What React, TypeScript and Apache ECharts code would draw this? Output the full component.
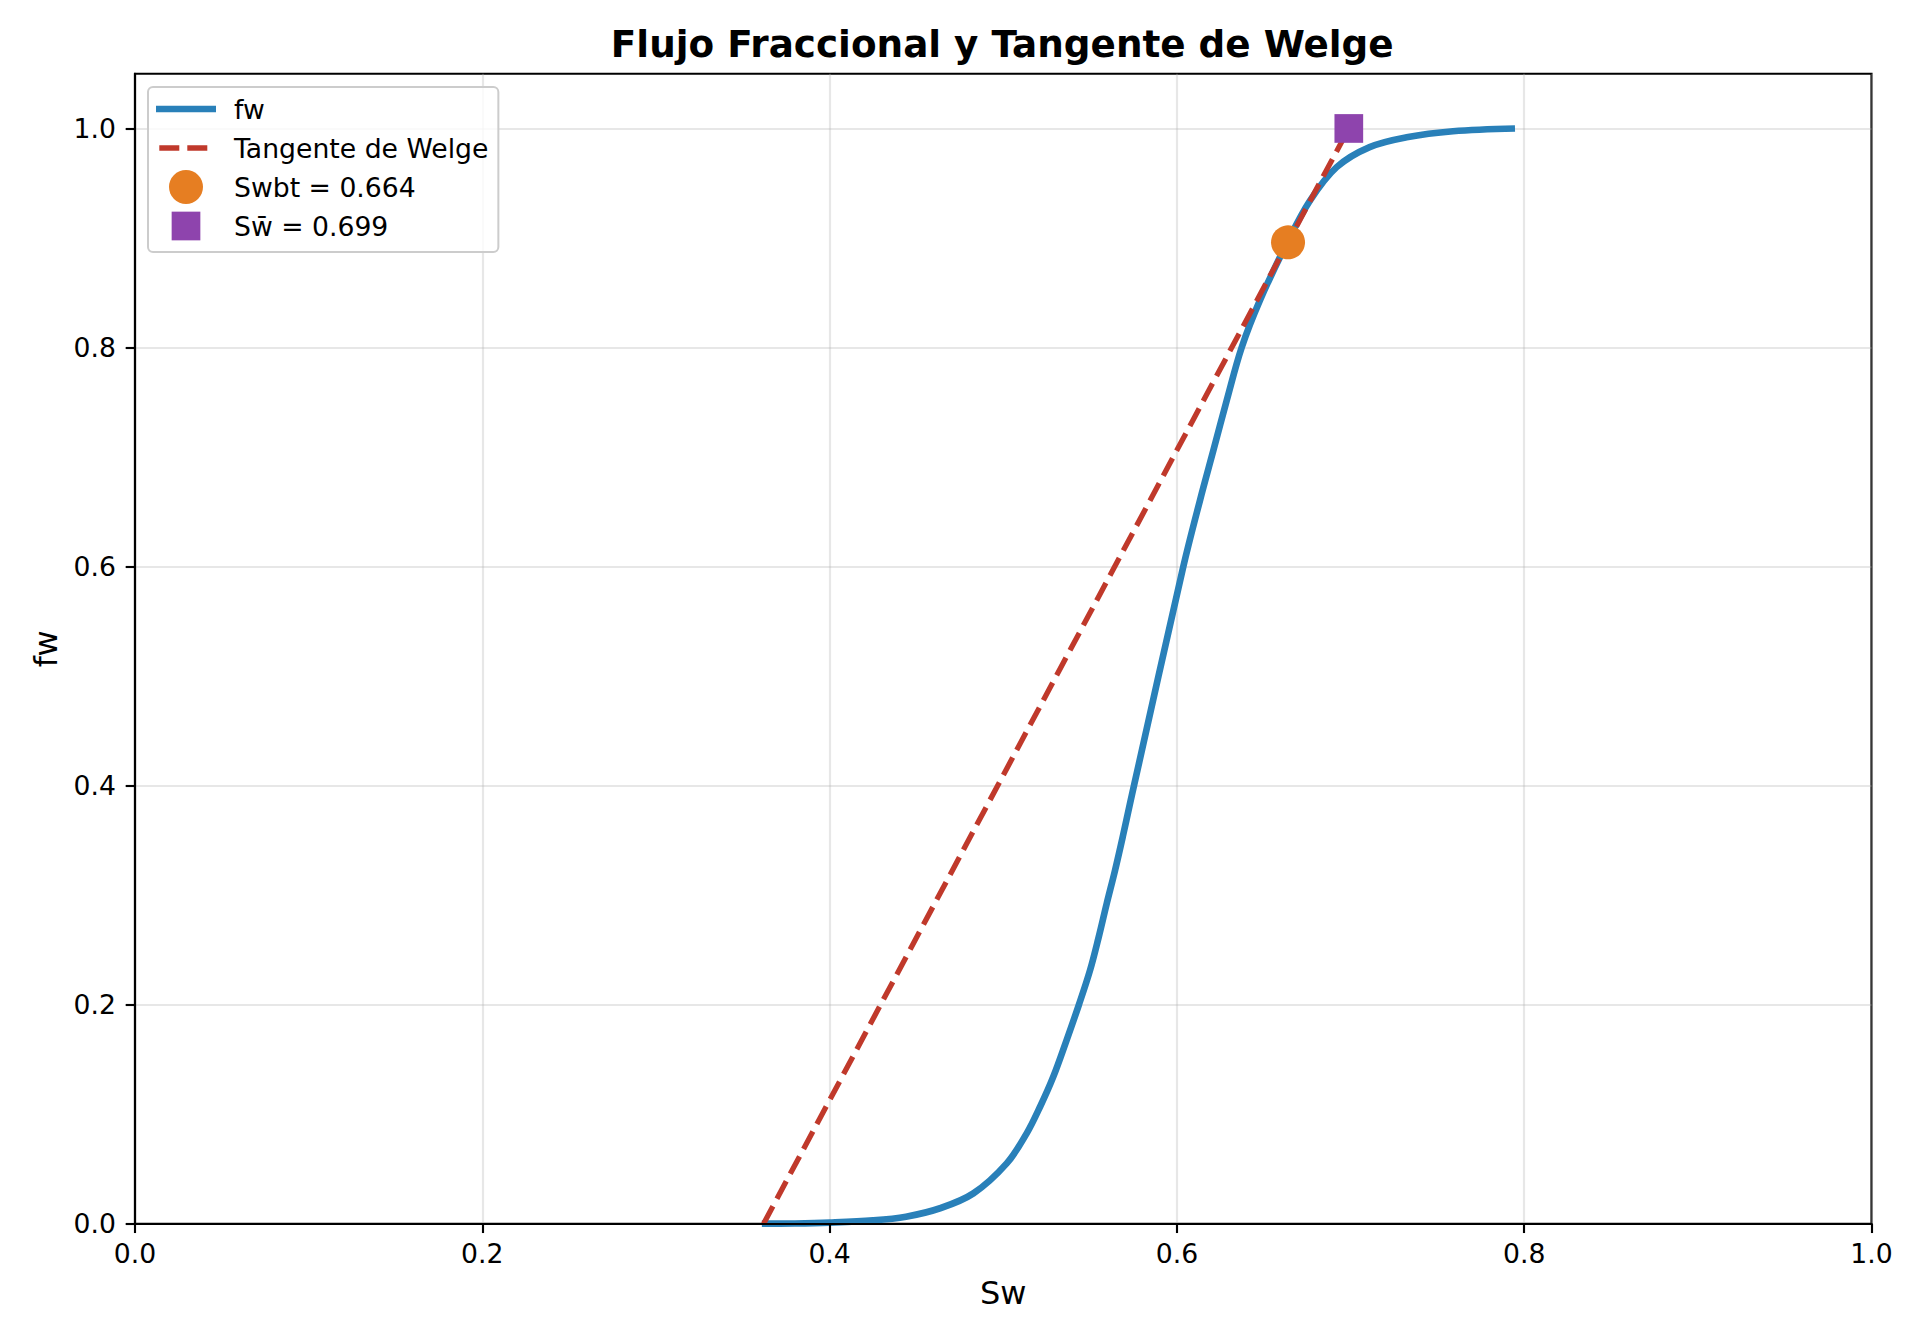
import React, { useEffect, useRef } from 'react';
import * as echarts from 'echarts';

// ---- Data ----
const SW_CURVE = [
  0.361, 0.38, 0.4, 0.425, 0.444, 0.4636, 0.4828, 0.502, 0.5135, 0.5212, 0.5288, 0.5365,
  0.5435, 0.55, 0.5550, 0.5596, 0.5644, 0.5688, 0.573, 0.5753, 0.6037, 0.6133, 0.621,
  0.6287, 0.6373, 0.6478, 0.6632, 0.6766, 0.692, 0.711, 0.7323, 0.759, 0.7947,
];
const FW_CURVE = [
  0, 0.0002, 0.001, 0.003, 0.0064, 0.0141, 0.0277, 0.0551, 0.0825, 0.1068, 0.1342, 0.1677,
  0.1996, 0.2315, 0.2619, 0.2924, 0.3228, 0.3532, 0.3837, 0.4, 0.6, 0.6605, 0.706,
  0.7517, 0.8, 0.843, 0.8948, 0.934, 0.9647, 0.983, 0.992, 0.9975, 1.0,
];
const TANGENT_SW = [0.362, 0.699];
const TANGENT_FW = [0, 1.0];
const SWBT = 0.664;
const FW_BT = 0.896;
const SW_AVG = 0.699;
const FW_AVG = 1.0;
const X_TICKS = [0, 0.2, 0.4, 0.6, 0.8, 1.0];
const Y_TICKS = [0, 0.2, 0.4, 0.6, 0.8, 1.0];

const TITLE = 'Flujo Fraccional y Tangente de Welge';
const X_NAME = 'Sw';
const Y_NAME = 'fw';
const NAME_FW = 'fw';
const NAME_TAN = 'Tangente de Welge';
const NAME_BT = `Swbt = ${SWBT.toFixed(3)}`;
const NAME_AVG = `Sw\u0304 = ${SW_AVG.toFixed(3)}`;

// ---- Styles ----
const BLUE = '#2980b9';
const RED = '#c0392b';
const ORANGE = '#e67e22';
const PURPLE = '#8e44ad';
const FONT = "'DejaVu Sans', sans-serif";
const PT = 192 / 72;

const GRID_L = 135;
const GRID_R = 48.5;
const GRID_T = 73.7;
const GRID_B = 120.3;

const ICON_FW = 'path://M0,0M73,34M0,13.67L60,13.67L60,20.33L0,20.33Z';
const ICON_TAN =
  'path://M0,0M73,34M3.3,14.33L23.3,14.33L23.3,19.67L3.3,19.67ZM31.3,14.33L51.3,14.33L51.3,19.67L31.3,19.67Z';
const ICON_BT = 'path://M0,0M73,34M13,17A17,17,0,1,1,47,17A17,17,0,1,1,13,17Z';
const ICON_AVG = 'path://M0,0M73,34M15.65,2.65L44.35,2.65L44.35,31.35L15.65,31.35Z';

export default function App() {
  const ref = useRef<HTMLDivElement>(null);

  useEffect(() => {
    document.body.style.margin = '0';
    if (!ref.current) return;
    const chart = echarts.init(ref.current, null, { renderer: 'svg' });

    const titleFs = 14 * PT;
    const ctx = document.createElement('canvas').getContext('2d');
    let tw = 778;
    if (ctx) {
      ctx.font = `bold ${titleFs}px "DejaVu Sans"`;
      tw = ctx.measureText(TITLE).width;
    }
    const plotCx = (GRID_L + (1920 - GRID_R)) / 2 - 1;

    const tickFs = 10 * PT;
    const labelFs = 12 * PT;
    const fmt = (v: number) => v.toFixed(1);
    const gridLine = { color: 'rgba(176,176,176,0.3)', width: 0.8 * PT };

    const option: any = {
      animation: false,
      title: {
        text: TITLE,
        left: plotCx - tw / 2,
        top: 25.6,
        padding: 0,
        textStyle: {
          fontFamily: FONT,
          fontWeight: 'bold',
          fontSize: titleFs,
          lineHeight: titleFs,
          color: '#000',
        },
      },
      grid: {
        left: GRID_L,
        right: GRID_R,
        top: GRID_T,
        bottom: GRID_B,
        show: true,
        borderColor: '#000',
        borderWidth: 0.8 * PT,
        backgroundColor: 'transparent',
      },
      legend: {
        orient: 'vertical',
        left: 148,
        top: 87,
        padding: [5, 10, 9, 8],
        itemWidth: 73,
        itemHeight: 34,
        itemGap: 5,
        selectedMode: false,
        backgroundColor: 'rgba(255,255,255,0.8)',
        borderColor: '#cccccc',
        borderWidth: 2,
        borderRadius: 5,
        textStyle: { fontFamily: FONT, fontSize: 10 * PT, color: '#000' },
        data: [
          { name: NAME_FW, icon: ICON_FW, itemStyle: { color: BLUE, borderWidth: 0 } },
          { name: NAME_TAN, icon: ICON_TAN, itemStyle: { color: RED, borderWidth: 0 } },
          { name: NAME_BT, icon: ICON_BT, itemStyle: { color: ORANGE, borderWidth: 0 } },
          { name: NAME_AVG, icon: ICON_AVG, itemStyle: { color: PURPLE, borderWidth: 0 } },
        ],
      },
      xAxis: [
        {
          type: 'value',
          min: 0,
          max: 1,
          interval: 0.2,
          position: 'bottom',
          z: 5,
          name: X_NAME,
          nameLocation: 'middle',
          nameGap: 52.8,
          nameTextStyle: { fontFamily: FONT, fontSize: labelFs, lineHeight: labelFs, color: '#000' },
          axisLine: { show: true, lineStyle: { color: '#000', width: 0.8 * PT } },
          axisTick: {
            show: true,
            inside: false,
            length: 3.5 * PT,
            customValues: X_TICKS,
            lineStyle: { color: '#000', width: 0.8 * PT },
          },
          axisLabel: {
            customValues: X_TICKS,
            margin: 16.7,
            fontFamily: FONT,
            fontSize: tickFs,
            lineHeight: tickFs,
            color: '#000',
            formatter: fmt,
          },
          splitLine: { show: false },
        },
        {
          type: 'value',
          min: 0,
          max: 1,
          interval: 0.2,
          position: 'top',
          axisLine: { show: false },
          axisTick: { show: false },
          axisLabel: { show: false },
          splitLine: { show: true, lineStyle: gridLine },
        },
      ],
      yAxis: {
        type: 'value',
        min: 0,
        max: 1.05,
        interval: 0.2,
        name: Y_NAME,
        nameLocation: 'middle',
        nameGap: 73.4,
        nameTextStyle: { fontFamily: FONT, fontSize: labelFs, lineHeight: labelFs, color: '#000' },
        axisLine: { show: true, lineStyle: { color: '#000', width: 0.8 * PT } },
        axisTick: {
          show: true,
          inside: false,
          length: 3.5 * PT,
          customValues: Y_TICKS,
          lineStyle: { color: '#000', width: 0.8 * PT },
        },
        axisLabel: {
          customValues: Y_TICKS,
          margin: 19,
          fontFamily: FONT,
          fontSize: tickFs,
          lineHeight: tickFs,
          color: '#000',
          formatter: fmt,
        },
        splitLine: { show: true, lineStyle: gridLine },
      },
      series: [
        {
          name: NAME_FW,
          type: 'line',
          xAxisIndex: 0,
          data: SW_CURVE.map((x, i) => [x, FW_CURVE[i]]),
          symbol: 'none',
          smooth: 0.35,
          lineStyle: { color: BLUE, width: 2.5 * PT, join: 'round' },
          itemStyle: { color: BLUE },
          z: 2,
        },
        {
          name: NAME_TAN,
          type: 'line',
          xAxisIndex: 0,
          data: TANGENT_SW.map((x, i) => [x, TANGENT_FW[i]]),
          symbol: 'none',
          lineStyle: { color: RED, width: 2 * PT, type: [3.7 * 2 * PT, 1.6 * 2 * PT] },
          itemStyle: { color: RED },
          z: 3,
        },
        {
          name: NAME_BT,
          type: 'scatter',
          xAxisIndex: 0,
          data: [[SWBT, FW_BT]],
          symbol: 'circle',
          symbolSize: 34,
          itemStyle: { color: ORANGE, opacity: 1 },
          z: 4,
        },
        {
          name: NAME_AVG,
          type: 'scatter',
          xAxisIndex: 0,
          data: [[SW_AVG, FW_AVG]],
          symbol: 'rect',
          symbolSize: 28.7,
          itemStyle: { color: PURPLE, opacity: 1 },
          z: 4,
        },
      ],
    };

    chart.setOption(option);
    return () => chart.dispose();
  }, []);

  return <div ref={ref} style={{ width: 1920, height: 1344 }} />;
}
